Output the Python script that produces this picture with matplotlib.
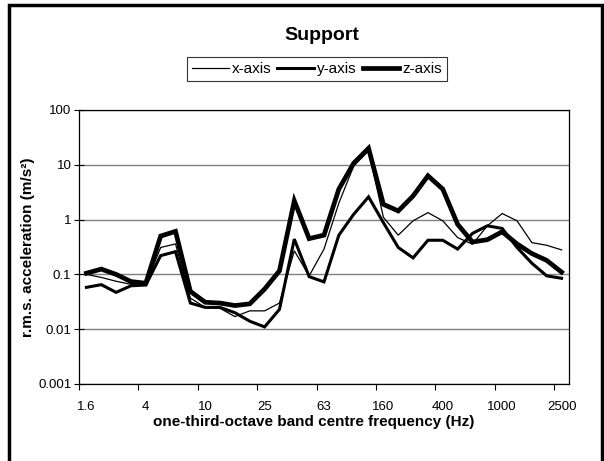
import matplotlib

matplotlib.use("Agg")
import matplotlib.pyplot as plt
from matplotlib.patches import Rectangle
from matplotlib.ticker import FixedLocator, NullFormatter
import numpy as np

plt.rcParams["font.family"] = ["Liberation Sans", "DejaVu Sans"]

# one-third-octave band centre frequencies (Hz)
freqs = ["1.6", "2", "2.5", "3.15", "4", "5", "6.3", "8", "10", "12.5", "16", "20",
         "25", "31.5", "40", "50", "63", "80", "100", "125", "160", "200", "250",
         "315", "400", "500", "630", "800", "1000", "1250", "1600", "2000", "2500"]

# r.m.s. acceleration (m/s^2)
x_axis = [0.10, 0.088, 0.075, 0.066, 0.066, 0.31, 0.36, 0.037, 0.025, 0.024, 0.017, 0.0216,
          0.0216, 0.030, 0.27, 0.094, 0.29, 2.0, 9.5, 18.0, 1.1, 0.52, 0.95, 1.34,
          0.95, 0.47, 0.355, 0.77, 1.29, 0.95, 0.38, 0.34, 0.28]
y_axis = [0.058, 0.065, 0.047, 0.062, 0.064, 0.22, 0.26, 0.030, 0.025, 0.025, 0.020, 0.014,
          0.011, 0.023, 0.44, 0.091, 0.073, 0.52, 1.25, 2.6, 0.88, 0.31, 0.20, 0.42,
          0.42, 0.29, 0.56, 0.77, 0.69, 0.31, 0.16, 0.094, 0.085]
z_axis = [0.105, 0.125, 0.10, 0.074, 0.069, 0.50, 0.61, 0.049, 0.031, 0.030, 0.027, 0.029,
          0.054, 0.116, 2.2, 0.45, 0.52, 3.6, 10.7, 20.0, 1.9, 1.44, 2.7, 6.3,
          3.6, 0.82, 0.39, 0.43, 0.60, 0.36, 0.24, 0.18, 0.11]

series = [("x-axis", x_axis, 0.9), ("y-axis", y_axis, 2.2), ("z-axis", z_axis, 3.4)]

fig = plt.figure(figsize=(6.04, 4.61), dpi=100)
ax = fig.add_axes([79 / 604, 1 - 384 / 461, 490 / 604, 274 / 461])

idx = np.arange(len(freqs))
for label, vals, lw in series:
    ax.plot(idx, vals, color="black", linewidth=lw, label=label, solid_joinstyle="miter")

ax.set_yscale("log")
ax.set_ylim(0.001, 100)
ax.set_yticks([0.001, 0.01, 0.1, 1, 10, 100])
ax.set_yticklabels(["0.001", "0.01", "0.1", "1", "10", "100"])
ax.yaxis.set_minor_locator(FixedLocator([]))
ax.grid(axis="y", color="#808080", linewidth=1.0)
ax.set_axisbelow(True)

ax.set_xlim(-0.5, len(freqs) - 0.5)
ax.set_xticks(idx[::4])
ax.set_xticklabels(freqs[::4])
ax.xaxis.set_minor_locator(FixedLocator(np.arange(-0.5, len(freqs) - 1, 4)))
ax.xaxis.set_minor_formatter(NullFormatter())
ax.tick_params(axis="x", which="major", length=0, pad=12, labelsize=9.5)
ax.tick_params(axis="x", which="minor", length=4, width=0.8, direction="out")
ax.tick_params(axis="y", which="major", length=7, width=0.8, direction="inout", labelsize=9.5, pad=2)

for sp in ax.spines.values():
    sp.set_linewidth(0.9)

ax.set_xlabel("one-third-octave band centre frequency (Hz)", fontsize=11, fontweight="bold")
ax.xaxis.set_label_coords((314 - 79) / 490, (384 - 415) / 274)
ax.set_ylabel("r.m.s. acceleration (m/s²)", fontsize=11, fontweight="bold")
ax.yaxis.set_label_coords((35 - 79) / 490, 0.5)

fig.text(322 / 604, 1 - 35 / 461, "Support", ha="center", va="center", fontsize=14, fontweight="bold")
leg = fig.legend(loc="center", bbox_to_anchor=(317 / 604, 1 - 69 / 461), ncol=3, frameon=True,
                 fancybox=False, edgecolor="black", fontsize=11, handlelength=2.4,
                 handletextpad=0.2, columnspacing=0.4, borderpad=0.3, borderaxespad=0)
leg.get_frame().set_linewidth(0.8)

fig.patches.append(Rectangle((9 / 604, -0.05), 593 / 604, 1.05 - 5 / 461, transform=fig.transFigure,
                             fill=False, edgecolor="black", linewidth=2.5))

fig.savefig("out.png", dpi=100)
